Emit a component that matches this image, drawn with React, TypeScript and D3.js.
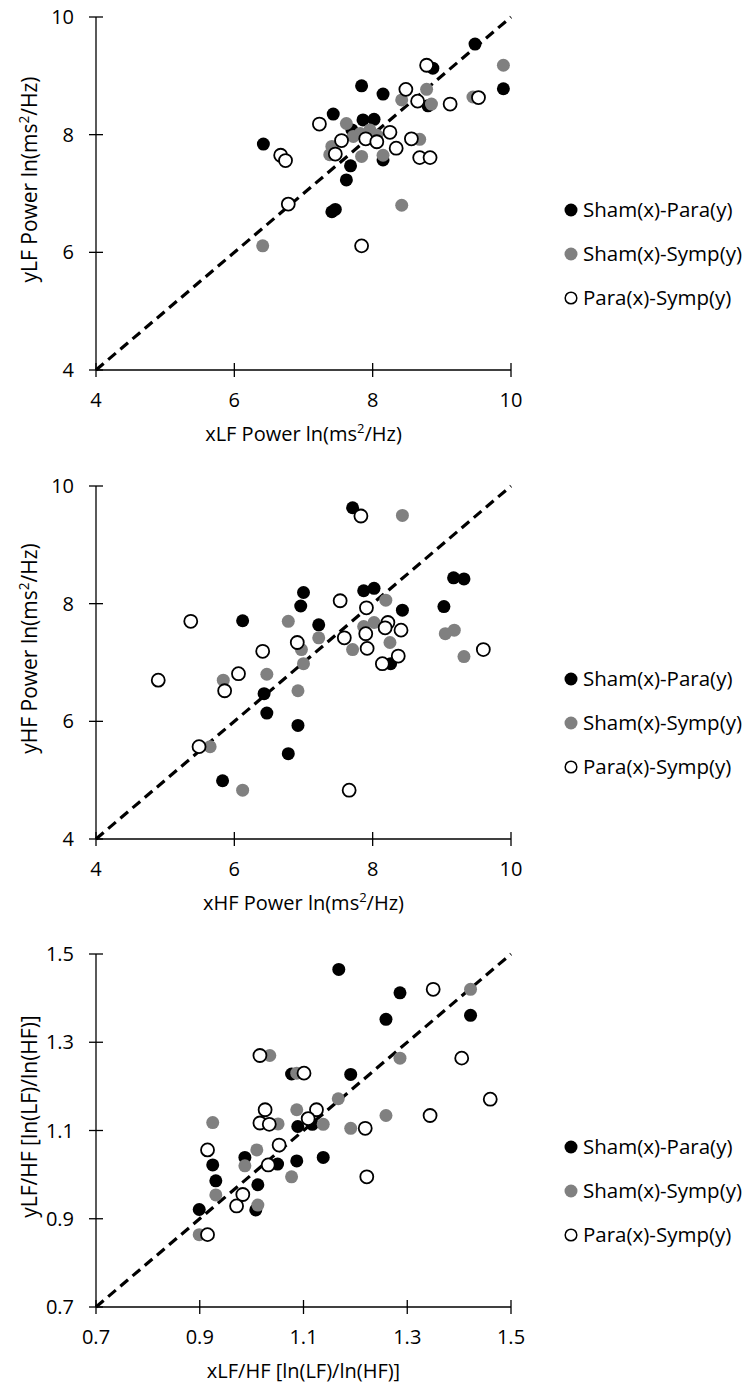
import React from "react";
import * as d3 from "d3";

// ---------- Data ----------
// Panel 1: LF power
const lfShamParaX = [9.48, 8.87, 7.84, 8.15, 9.89, 8.80, 7.43, 7.86, 8.02, 7.70, 6.42, 8.15, 7.68, 7.62, 7.41, 7.46];
const lfShamParaY = [9.54, 9.13, 8.83, 8.69, 8.78, 8.49, 8.35, 8.25, 8.26, 8.08, 7.84, 7.57, 7.47, 7.23, 6.69, 6.73];
const lfShamSympX = [9.89, 8.78, 8.42, 8.85, 9.45, 7.62, 8.68, 7.41, 7.38, 7.72, 7.82, 7.96, 8.06, 7.84, 8.15, 8.42, 6.41];
const lfShamSympY = [9.18, 8.77, 8.59, 8.52, 8.64, 8.19, 7.92, 7.80, 7.66, 7.97, 8.02, 8.08, 7.99, 7.63, 7.65, 6.80, 6.11];
const lfParaSympX = [8.78, 8.48, 8.65, 9.12, 9.53, 7.23, 8.25, 7.55, 7.90, 8.06, 8.56, 8.34, 7.46, 8.68, 8.83, 6.67, 6.74, 6.78, 7.84];
const lfParaSympY = [9.18, 8.77, 8.57, 8.52, 8.63, 8.18, 8.04, 7.90, 7.93, 7.88, 7.93, 7.77, 7.67, 7.61, 7.61, 7.65, 7.56, 6.82, 6.11];

// Panel 2: HF power
const hfShamParaX = [7.71, 9.17, 9.32, 7.87, 8.02, 7.00, 6.96, 8.43, 9.03, 6.12, 7.22, 8.26, 6.43, 6.47, 6.92, 6.78, 5.83];
const hfShamParaY = [9.63, 8.44, 8.42, 8.22, 8.26, 8.19, 7.96, 7.89, 7.95, 7.71, 7.64, 6.98, 6.47, 6.14, 5.93, 5.45, 4.99];
const hfShamSympX = [8.43, 8.19, 6.78, 8.02, 7.87, 7.22, 6.97, 7.71, 8.25, 9.05, 9.18, 9.32, 7.00, 6.47, 5.84, 6.92, 5.65, 6.12];
const hfShamSympY = [9.50, 8.06, 7.70, 7.68, 7.61, 7.42, 7.22, 7.22, 7.34, 7.49, 7.55, 7.10, 6.98, 6.80, 6.70, 6.52, 5.57, 4.83];
const hfParaSympX = [7.83, 7.53, 7.91, 5.37, 8.22, 8.18, 8.41, 7.90, 7.59, 6.91, 6.41, 7.92, 9.60, 8.37, 8.14, 6.06, 4.90, 5.86, 5.49, 7.66];
const hfParaSympY = [9.49, 8.05, 7.93, 7.70, 7.68, 7.59, 7.55, 7.49, 7.42, 7.34, 7.19, 7.24, 7.22, 7.11, 6.98, 6.81, 6.70, 6.52, 5.57, 4.83];

// Panel 3: LF/HF ratio
const rShamParaX = [1.168, 1.286, 1.259, 1.422, 1.191, 1.077, 1.089, 1.117, 1.138, 1.087, 1.050, 0.987, 0.925, 0.931, 1.012, 1.008, 0.899];
const rShamParaY = [1.465, 1.412, 1.352, 1.361, 1.227, 1.228, 1.109, 1.114, 1.039, 1.031, 1.024, 1.039, 1.022, 0.986, 0.977, 0.920, 0.921];
const rShamSympX = [1.422, 1.286, 1.035, 1.087, 1.167, 1.259, 1.087, 1.138, 1.191, 1.051, 0.925, 1.010, 0.987, 1.077, 0.931, 1.012, 0.899];
const rShamSympY = [1.420, 1.264, 1.270, 1.230, 1.172, 1.134, 1.147, 1.114, 1.105, 1.115, 1.118, 1.056, 1.020, 0.995, 0.954, 0.931, 0.864];
const rParaSympX = [1.350, 1.016, 1.101, 1.405, 1.460, 1.344, 1.026, 1.125, 1.016, 1.034, 1.109, 1.219, 1.053, 0.915, 1.032, 1.222, 0.983, 0.971, 0.915];
const rParaSympY = [1.420, 1.270, 1.230, 1.264, 1.171, 1.134, 1.147, 1.147, 1.117, 1.114, 1.127, 1.105, 1.067, 1.056, 1.022, 0.995, 0.955, 0.929, 0.864];

const powerTicks = [4, 6, 8, 10];
const ratioTicks = [0.7, 0.9, 1.1, 1.3, 1.5];
const seriesNames = ["Sham(x)-Para(y)", "Sham(x)-Symp(y)", "Para(x)-Symp(y)"];

// ---------- Layout ----------
const W = 753;
const H = 1393;
const FONT = "'Open Sans', sans-serif";
const PLOT_L = 96;
const PLOT_R = 511;
const PLOT_H = 353;

type Series = { xs: number[]; ys: number[]; kind: 0 | 1 | 2 };

function Title({ pre, post, sup }: { pre: string; post: string; sup: boolean }) {
  if (!sup) return <>{pre}</>;
  return (
    <>
      {pre}
      <tspan fontSize="0.65em" dy={-8}>2</tspan>
      <tspan dy={8}>{post}</tspan>
    </>
  );
}

function Panel({
  top,
  domain,
  ticks,
  fmt,
  series,
  xTitle,
  yTitle,
}: {
  top: number;
  domain: [number, number];
  ticks: number[];
  fmt: (v: number) => string;
  series: Series[];
  xTitle: { pre: string; post: string; sup: boolean };
  yTitle: { pre: string; post: string; sup: boolean };
}) {
  const bottom = top + PLOT_H;
  const x = d3.scaleLinear().domain(domain).range([PLOT_L, PLOT_R]);
  const y = d3.scaleLinear().domain(domain).range([bottom, top]);
  const midY = (top + bottom) / 2;
  const midX = (PLOT_L + PLOT_R) / 2;
  const diag = d3.line<number>().x((v) => x(v)).y((v) => y(v))(domain) || "";
  const styleOf = (k: number) =>
    k === 0
      ? { fill: "#000", stroke: "none", strokeWidth: 0 }
      : k === 1
      ? { fill: "#808080", stroke: "none", strokeWidth: 0 }
      : { fill: "#fff", stroke: "#000", strokeWidth: 1.8 };
  return (
    <g>
      {/* axes */}
      <line x1={PLOT_L} x2={PLOT_L} y1={top} y2={bottom} stroke="#000" strokeWidth={1.3} />
      <line x1={PLOT_L} x2={PLOT_R} y1={bottom} y2={bottom} stroke="#000" strokeWidth={1.3} />
      {ticks.map((t) => (
        <g key={"yt" + t}>
          <line x1={PLOT_L - 7} x2={PLOT_L + 7} y1={y(t)} y2={y(t)} stroke="#000" strokeWidth={1.3} />
          <text x={PLOT_L - 22} y={y(t)} dy="0.35em" textAnchor="end" fontSize={20} fontFamily={FONT} fill="#000">
            {fmt(t)}
          </text>
        </g>
      ))}
      {ticks.map((t) => (
        <g key={"xt" + t}>
          <line x1={x(t)} x2={x(t)} y1={bottom - 7} y2={bottom + 7} stroke="#000" strokeWidth={1.3} />
          <text x={x(t)} y={bottom + 30} dy="0.35em" textAnchor="middle" fontSize={20} fontFamily={FONT} fill="#000">
            {fmt(t)}
          </text>
        </g>
      ))}
      {/* identity line */}
      <path d={diag} fill="none" stroke="#000" strokeWidth={3.2} strokeDasharray="10,6" />
      {/* points */}
      {series.map((s, si) => (
        <g key={"s" + si}>
          {s.xs.map((xv, i) => (
            <circle key={i} cx={x(xv)} cy={y(s.ys[i])} r={6.5} {...styleOf(s.kind)} />
          ))}
        </g>
      ))}
      {/* axis titles */}
      <text x={midX} y={bottom + 64} dy="0.35em" textAnchor="middle" fontSize={20} fontFamily={FONT} fill="#000">
        <Title {...xTitle} />
      </text>
      <text
        transform={`translate(30,${midY - 14}) rotate(-90)`}
        dy="0.35em"
        textAnchor="middle"
        fontSize={21}
        fontFamily={FONT}
        fill="#000"
      >
        <Title {...yTitle} />
      </text>
      {/* legend */}
      {seriesNames.map((n, i) => {
        const ly = midY + 16.5 + i * 44;
        return (
          <g key={"lg" + i}>
            <circle cx={571} cy={ly} r={i === 2 ? 5.8 : 6.5} {...styleOf(i)} strokeWidth={i === 2 ? 1.5 : 0} />
            <text x={583} y={ly} dy="0.35em" fontSize={20.5} fontFamily={FONT} fill="#000">
              {n}
            </text>
          </g>
        );
      })}
    </g>
  );
}

export default function App() {
  const f0 = (v: number) => d3.format("d")(v);
  const f1 = (v: number) => d3.format(".1f")(v);
  return (
    <svg
      width={W}
      height={H}
      viewBox={`0 0 ${W} ${H}`}
      style={{ position: "absolute", left: 0, top: 0, background: "#fff", display: "block" }}
    >
      <rect x={0} y={0} width={W} height={H} fill="#fff" />
      <Panel
        top={17}
        domain={[4, 10]}
        ticks={powerTicks}
        fmt={f0}
        series={[
          { xs: lfShamParaX, ys: lfShamParaY, kind: 0 },
          { xs: lfShamSympX, ys: lfShamSympY, kind: 1 },
          { xs: lfParaSympX, ys: lfParaSympY, kind: 2 },
        ]}
        xTitle={{ pre: "xLF Power ln(ms", post: "/Hz)", sup: true }}
        yTitle={{ pre: "yLF Power ln(ms", post: "/Hz)", sup: true }}
      />
      <Panel
        top={486}
        domain={[4, 10]}
        ticks={powerTicks}
        fmt={f0}
        series={[
          { xs: hfShamParaX, ys: hfShamParaY, kind: 0 },
          { xs: hfShamSympX, ys: hfShamSympY, kind: 1 },
          { xs: hfParaSympX, ys: hfParaSympY, kind: 2 },
        ]}
        xTitle={{ pre: "xHF Power ln(ms", post: "/Hz)", sup: true }}
        yTitle={{ pre: "yHF Power ln(ms", post: "/Hz)", sup: true }}
      />
      <Panel
        top={954}
        domain={[0.7, 1.5]}
        ticks={ratioTicks}
        fmt={f1}
        series={[
          { xs: rShamParaX, ys: rShamParaY, kind: 0 },
          { xs: rShamSympX, ys: rShamSympY, kind: 1 },
          { xs: rParaSympX, ys: rParaSympY, kind: 2 },
        ]}
        xTitle={{ pre: "xLF/HF [ln(LF)/ln(HF)]", post: "", sup: false }}
        yTitle={{ pre: "yLF/HF [ln(LF)/ln(HF)]", post: "", sup: false }}
      />
    </svg>
  );
}
